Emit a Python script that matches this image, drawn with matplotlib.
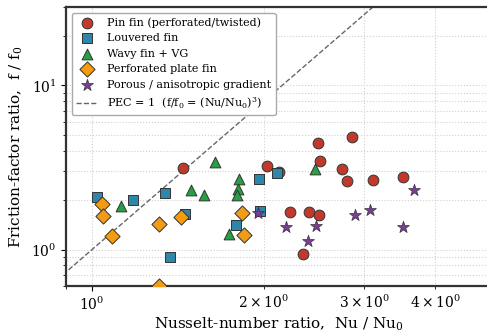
import numpy as np
import matplotlib
matplotlib.use("Agg")
import matplotlib.pyplot as plt

plt.rcParams["font.family"] = "DejaVu Serif"
plt.rcParams["mathtext.fontset"] = "dejavuserif"

# Nu/Nu0 and f/f0
pin_nu = [1.445, 2.028, 2.126, 2.857, 2.494, 2.515, 2.744, 2.80, 3.11, 3.51,
          2.22, 2.397, 2.50, 2.34]
pin_f = [3.13, 3.24, 2.95, 4.82, 4.47, 3.48, 3.11, 2.63, 2.66, 2.77,
         1.69, 1.69, 1.62, 0.942]

louv_nu = [1.021, 1.178, 1.341, 1.453, 1.368, 1.963, 2.106, 1.787, 1.968]
louv_f = [2.09, 1.99, 2.22, 1.645, 0.898, 2.68, 2.92, 1.418, 1.707]

wavy_nu = [1.644, 1.489, 1.573, 1.125, 1.809, 1.799, 1.795, 1.740, 2.461]
wavy_f = [3.40, 2.31, 2.15, 1.85, 2.68, 2.33, 2.15, 1.245, 3.08]

perf_nu = [1.041, 1.047, 1.084, 1.309, 1.430, 1.831, 1.848, 1.31]
perf_f = [1.90, 1.59, 1.216, 1.43, 1.57, 1.67, 1.22, 0.60]

por_nu = [1.953, 3.67, 3.07, 2.888, 2.184, 2.465, 2.393, 3.51]
por_f = [1.67, 2.31, 1.75, 1.62, 1.365, 1.398, 1.134, 1.373]

fig = plt.figure(figsize=(4.87, 3.36), dpi=100)
ax = fig.add_axes([0.1355, 0.149, 0.872, 0.830])

edge = "#333333"
ax.scatter(pin_nu, pin_f, s=60, marker="o", color="#c0392b", edgecolor=edge,
           linewidth=0.7, label="Pin fin (perforated/twisted)", zorder=3)
ax.scatter(louv_nu, louv_f, s=60, marker="s", color="#2e86ab", edgecolor=edge,
           linewidth=0.7, label="Louvered fin", zorder=3)
ax.scatter(wavy_nu, wavy_f, s=60, marker="^", color="#27a045", edgecolor=edge,
           linewidth=0.7, label="Wavy fin + VG", zorder=3)
ax.scatter(perf_nu, perf_f, s=60, marker="D", color="#f39c12", edgecolor=edge,
           linewidth=0.7, label="Perforated plate fin", zorder=3)
ax.scatter(por_nu, por_f, s=80, marker="*", color="#7d3c98", edgecolor=edge,
           linewidth=0.5, label="Porous / anisotropic gradient", zorder=3)

# PEC = 1 reference line
xs = np.geomspace(0.85, 5.5, 100)
ax.plot(xs, xs ** 3, linestyle="--", color="#666666", linewidth=1.0,
        label=r"PEC = 1  (f/f$_0$ = (Nu/Nu$_0$)$^3$)", zorder=2)

ax.set_xscale("log")
ax.set_yscale("log")
ax.set_xlim(0.9, 5.0)
ax.set_ylim(0.6, 30)

ax.grid(True, which="both", linestyle=":", color="#d0d0d0", linewidth=0.8)
ax.tick_params(labelsize=10)
for sp in ax.spines.values():
    sp.set_linewidth(1.6)
    sp.set_color("#333333")

ax.set_xlabel(r"Nusselt-number ratio,  Nu / Nu$_0$", fontsize=11, labelpad=2)
ax.set_ylabel(r"Friction-factor ratio,  f / f$_0$", fontsize=11)

ax.legend(loc="upper left", fontsize=8, framealpha=1, edgecolor="#aaaaaa")

fig.savefig("out.png", dpi=100)
